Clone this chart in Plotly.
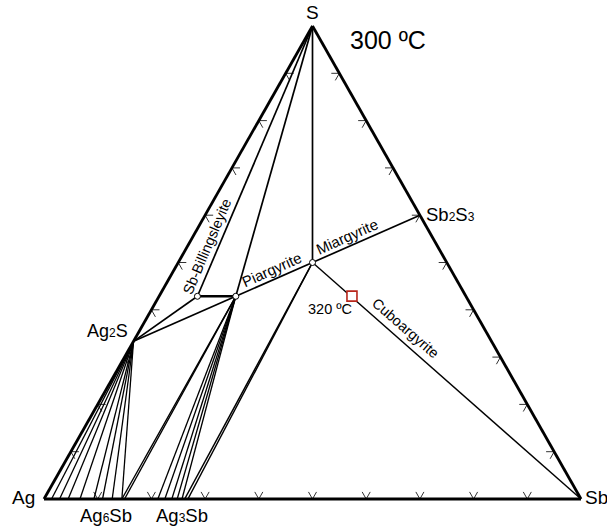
import plotly.graph_objects as go

# ---- compositions (atomic fractions: Ag, Sb, S) ----
V_AG = (1.0, 0.0, 0.0)
V_SB = (0.0, 1.0, 0.0)
V_S = (0.0, 0.0, 1.0)
AG2S = (2/3, 0.0, 1/3)
SB2S3 = (0.0, 0.4, 0.6)
PIARGYRITE = (3/7, 1/7, 3/7)
MIARGYRITE = (0.25, 0.25, 0.5)
BILLINGSLEYITE = (0.5, 1/14, 3/7)
POINT_320 = (0.212, 0.359, 0.429)

# Sb fractions on the Ag-Sb join where tie lines end
AG2S_FAN_SB = [0.014, 0.029, 0.045, 0.067, 0.093, 0.109, 0.127, 0.145]
PIARG_AG6SB_SB = [0.145, 0.150]
PIARG_FAN_SB = [0.212, 0.225, 0.238, 0.248, 0.257]
MIARG_AG3SB_SB = [0.262, 0.268]

TICK_FRACTIONS = [0.1, 0.2, 0.3, 0.4, 0.5, 0.6, 0.7, 0.8, 0.9]
TICK_LEN = 0.015

AG6SB_LABEL_SB = 0.115
AG3SB_LABEL_SB = 0.257


def xy(c):
    ag, sb, s = c
    return sb + s / 2.0, s


def base(f):
    return (1 - f, f, 0.0)


def segs(pairs):
    xs, ys = [], []
    for a, b in pairs:
        xa, ya = xy(a)
        xb, yb = xy(b)
        xs += [xa, xb, None]
        ys += [ya, yb, None]
    return xs, ys


fig = go.Figure()


def add_lines(pairs, width, color="black"):
    xs, ys = segs(pairs)
    fig.add_trace(go.Scatter(x=xs, y=ys, mode="lines",
                             line=dict(color=color, width=width),
                             hoverinfo="skip", showlegend=False))


# tick marks (two grid-direction strokes on each edge)
ticks = []
d = TICK_LEN
for t in TICK_FRACTIONS:
    p = (1 - t, t, 0.0)
    ticks.append((p, (1 - t - d, t, d)))
    ticks.append((p, (1 - t, t - d, d)))
    p = (0.0, 1 - t, t)
    ticks.append((p, (d, 1 - t - d, t)))
    ticks.append((p, (d, 1 - t, t - d)))
    p = (1 - t, 0.0, t)
    ticks.append((p, (1 - t - d, d, t)))
    ticks.append((p, (1 - t, d, t - d)))
add_lines(ticks, 1, "#333333")

# tie-line fans
add_lines([(AG2S, base(f)) for f in AG2S_FAN_SB], 1.3)
add_lines([(PIARGYRITE, base(f)) for f in PIARG_AG6SB_SB], 1.4)
add_lines([(PIARGYRITE, base(f)) for f in PIARG_FAN_SB], 1.3)
add_lines([(MIARGYRITE, base(f)) for f in MIARG_AG3SB_SB], 1.5)

# main tie lines
add_lines([(V_S, BILLINGSLEYITE), (V_S, PIARGYRITE), (V_S, MIARGYRITE),
           (AG2S, BILLINGSLEYITE), (AG2S, PIARGYRITE),
           (PIARGYRITE, MIARGYRITE), (MIARGYRITE, SB2S3)], 1.7)
add_lines([(BILLINGSLEYITE, PIARGYRITE)], 2.4)
add_lines([(MIARGYRITE, V_SB)], 1.4)

# triangle edges
add_lines([(V_AG, V_SB), (V_SB, V_S), (V_S, V_AG)], 2.8)

# phase points
pts = [BILLINGSLEYITE, PIARGYRITE, MIARGYRITE]
fig.add_trace(go.Scatter(x=[xy(p)[0] for p in pts], y=[xy(p)[1] for p in pts],
                         mode="markers",
                         marker=dict(size=6, color="white",
                                     line=dict(color="black", width=1)),
                         hoverinfo="skip", showlegend=False))
fig.add_trace(go.Scatter(x=[xy(POINT_320)[0]], y=[xy(POINT_320)[1]],
                         mode="markers",
                         marker=dict(symbol="square", size=10, color="white",
                                     line=dict(color="#b8261b", width=1.6)),
                         hoverinfo="skip", showlegend=False))

FONT = "Liberation Sans, Arial, sans-serif"


def small(s, size=12):
    return '<span style="font-size:%dpx">%s</span>' % (size, s)


def ann(c, text, size, xanchor="center", yanchor="middle", xs=0, ys=0, angle=0):
    x, y = xy(c)
    fig.add_annotation(x=x, y=y, xref="x", yref="y", text=text, showarrow=False,
                       xanchor=xanchor, yanchor=yanchor, xshift=xs, yshift=ys,
                       textangle=angle, font=dict(family=FONT, size=size, color="black"))


ann(V_S, "S", 19, ys=14)
ann(V_AG, "Ag", 19, xanchor="right", xs=-7, ys=2)
ann(V_SB, "Sb", 19, xanchor="left", xs=2, ys=2)
ann(AG2S, "Ag" + small("2") + "S", 18, xanchor="right", xs=-4, ys=10)
ann(SB2S3, "Sb" + small("2") + "S" + small("3"), 18.5, xanchor="left", xs=4, ys=1)
ann(base(AG6SB_LABEL_SB), "Ag" + small("6") + "Sb", 18.5, ys=-16)
ann(base(AG3SB_LABEL_SB), "Ag" + small("3") + "Sb", 18.5, ys=-16)
ann(V_S, "300 ºC", 25, xanchor="left", xs=35, ys=-14)


def mid(a, b, t):
    return tuple(a[i] + (b[i] - a[i]) * t for i in range(3))


ann(mid(PIARGYRITE, MIARGYRITE, 0.47), "Piargyrite", 15, xs=0, ys=11, angle=-24)
ann(mid(MIARGYRITE, SB2S3, 0.32), "Miargyrite", 15, xs=0, ys=11, angle=-24)
ann(mid(BILLINGSLEYITE, V_S, 0.2), "Sb-Billingsleyite", 14.5, xs=-13, ys=-4, angle=-67)
ann(mid(MIARGYRITE, V_SB, 0.32), "Cuboargyrite", 14.5, xs=7, ys=10, angle=41)
ann(POINT_320, "320 ºC", 14.5, xs=-22, ys=-13)

fig.update_layout(
    width=607, height=526,
    margin=dict(l=0, r=0, t=0, b=0),
    paper_bgcolor="white", plot_bgcolor="white",
    xaxis=dict(range=[-44/537, 563/537], visible=False, fixedrange=True),
    yaxis=dict(range=[-27/473, 499/473], visible=False, fixedrange=True),
    showlegend=False,
)

fig.write_html("out.html", config={"displayModeBar": False},
               post_script="document.body.style.margin='0';")
